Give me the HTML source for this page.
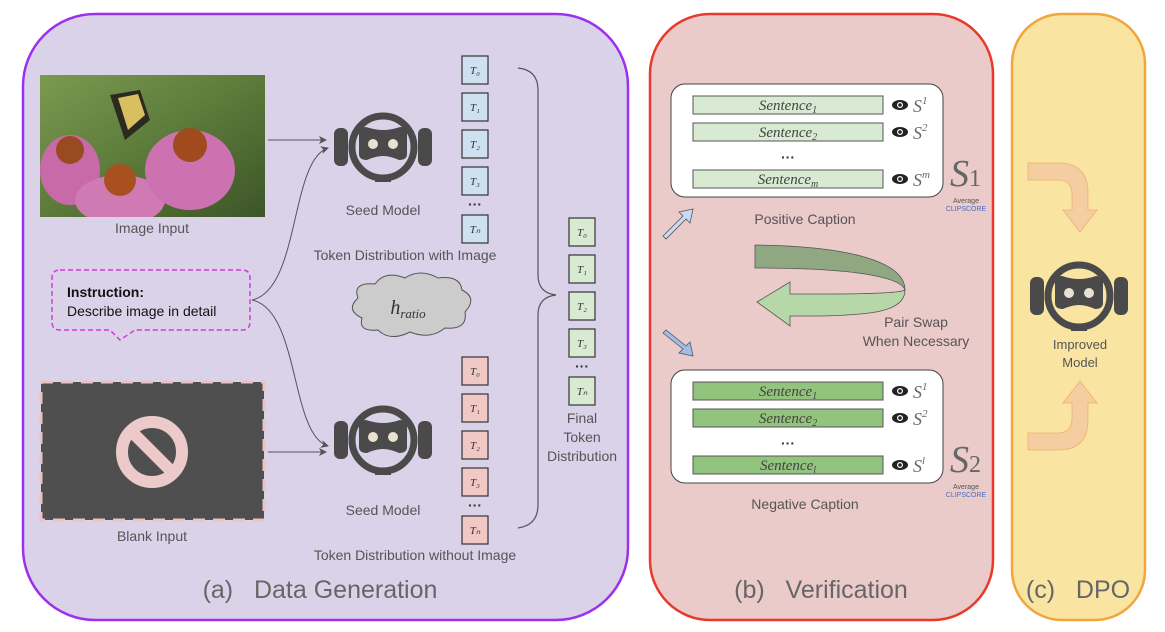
<!DOCTYPE html>
<html><head><meta charset="utf-8"><style>
body{margin:0;background:#fff;}
svg{display:block;font-family:"Liberation Sans",sans-serif;}
.tk{font-family:"Liberation Serif",serif;font-style:italic;font-size:11px;fill:#333;}
.lbl{font-size:14px;fill:#555;}
.sent{font-family:"Liberation Serif",serif;font-style:italic;font-size:15px;fill:#444;}
</style></head><body>
<svg width="1165" height="632" viewBox="0 0 1165 632" xmlns="http://www.w3.org/2000/svg">
<defs>
<g id="robot">
  <rect x="-49" y="-19" width="14" height="38" rx="6" fill="#4a4a4a"/>
  <rect x="35" y="-19" width="14" height="38" rx="6" fill="#4a4a4a"/>
  <circle cx="0" cy="0" r="31" fill="none" stroke="#4a4a4a" stroke-width="7"/>
  <path d="M-24,-14 Q-24,-20 -17,-20 Q-8,-17 0,-17 Q8,-17 17,-20 Q24,-20 24,-14 L24,7 Q24,13 16,13 Q7,9 0,9 Q-7,9 -16,13 Q-24,13 -24,7 Z" fill="#4a4a4a"/>
  <circle cx="-10" cy="-3" r="5" fill="#e8e0d0"/>
  <circle cx="10" cy="-3" r="5" fill="#e8e0d0"/>
  <rect x="-8" y="30" width="16" height="5" fill="#4a4a4a"/>
</g>
<marker id="ar" markerWidth="8" markerHeight="8" refX="7" refY="4" orient="auto"><path d="M0,0 L8,4 L0,8 L2,4 Z" fill="#555"/></marker>
<linearGradient id="img" x1="0" y1="0" x2="1" y2="1"><stop offset="0" stop-color="#7a9a50"/><stop offset="0.5" stop-color="#5c7a3a"/><stop offset="1" stop-color="#3d5528"/></linearGradient>
<clipPath id="ic"><rect x="40" y="75" width="225" height="142"/></clipPath>
</defs>

<rect x="23" y="14" width="605" height="606" rx="72" fill="#d9d2e9" stroke="#9b30ee" stroke-width="2.5"/>
<rect x="650" y="14" width="343" height="606" rx="60" fill="#ebcaca" stroke="#e8392a" stroke-width="2.5"/>
<rect x="1012" y="14" width="133" height="606" rx="50" fill="#f9e5a1" stroke="#f2a53a" stroke-width="2.5"/>

<g clip-path="url(#ic)">
<rect x="40" y="75" width="225" height="142" fill="url(#img)"/>
<ellipse cx="70" cy="170" rx="30" ry="35" fill="#c86aa8"/>
<ellipse cx="120" cy="200" rx="45" ry="25" fill="#d07ab4"/>
<ellipse cx="190" cy="170" rx="45" ry="40" fill="#cc72b0"/>
<circle cx="70" cy="150" r="14" fill="#9a4a20"/>
<circle cx="120" cy="180" r="16" fill="#a85020"/>
<circle cx="190" cy="145" r="17" fill="#a04a1e"/>
<path d="M110,95 L140,90 L150,120 L125,140 Z" fill="#2a2a20"/>
<path d="M118,98 L138,94 L145,115 L128,130 Z" fill="#d8c060"/>
</g>
<text x="152" y="233" text-anchor="middle" class="lbl">Image Input</text>

<rect x="41" y="382" width="223" height="138" fill="#4f4f4f" stroke="#e8c4c4" stroke-width="3" stroke-dasharray="12,8"/>
<circle cx="152" cy="452" r="30" fill="none" stroke="#eccaca" stroke-width="12"/>
<line x1="131" y1="431" x2="173" y2="473" stroke="#eccaca" stroke-width="12"/>
<text x="152" y="541" text-anchor="middle" class="lbl">Blank Input</text>

<path d="M60,270 L242,270 Q250,270 250,278 L250,322 Q250,330 242,330 L135,330 L120,340 L110,330 L60,330 Q52,330 52,322 L52,278 Q52,270 60,270 Z" fill="#d9d2e9" stroke="#d63ad6" stroke-width="1.5" stroke-dasharray="5,3"/>
<text x="67" y="297" font-size="14" font-weight="bold" fill="#111">Instruction:</text>
<text x="67" y="316" font-size="14" fill="#111">Describe image in detail</text>

<line x1="268" y1="140" x2="326" y2="140" stroke="#555" stroke-width="1" marker-end="url(#ar)"/>
<line x1="268" y1="452" x2="326" y2="452" stroke="#555" stroke-width="1" marker-end="url(#ar)"/>
<path d="M252,300 C300,290 290,160 328,148" fill="none" stroke="#555" stroke-width="1" marker-end="url(#ar)"/>
<path d="M252,300 C300,310 290,435 328,446" fill="none" stroke="#555" stroke-width="1" marker-end="url(#ar)"/>

<use href="#robot" x="383" y="147"/>
<use href="#robot" x="383" y="440"/>
<text x="383" y="215" text-anchor="middle" class="lbl">Seed Model</text>
<text x="405" y="260" text-anchor="middle" class="lbl">Token Distribution with Image</text>
<text x="383" y="515" text-anchor="middle" class="lbl">Seed Model</text>
<text x="415" y="560" text-anchor="middle" class="lbl">Token Distribution without Image</text>

<path d="M362,318 Q345,310 358,298 Q352,282 375,284 Q385,270 405,278 Q420,268 438,278 Q460,275 462,290 Q478,298 465,312 Q468,330 445,328 Q430,340 410,332 Q390,342 378,330 Q358,332 362,318 Z" fill="#cccccc" stroke="#555" stroke-width="1"/>
<text x="408" y="314" text-anchor="middle" font-family="Liberation Serif,serif" font-style="italic" font-size="20" fill="#333">h<tspan font-size="13" dy="4">ratio</tspan></text>

<g stroke="#333" stroke-width="1.2" fill="#cfe0f1">
<rect x="462" y="56" width="26" height="28"/><rect x="462" y="93" width="26" height="28"/><rect x="462" y="130" width="26" height="28"/><rect x="462" y="167" width="26" height="28"/><rect x="462" y="215" width="26" height="28"/>
</g>
<g stroke="#333" stroke-width="1.2" fill="#f0c9c6">
<rect x="462" y="357" width="26" height="28"/><rect x="462" y="394" width="26" height="28"/><rect x="462" y="431" width="26" height="28"/><rect x="462" y="468" width="26" height="28"/><rect x="462" y="516" width="26" height="28"/>
</g>
<g stroke="#333" stroke-width="1.2" fill="#d9ead3">
<rect x="569" y="218" width="26" height="28"/><rect x="569" y="255" width="26" height="28"/><rect x="569" y="292" width="26" height="28"/><rect x="569" y="329" width="26" height="28"/><rect x="569" y="377" width="26" height="28"/>
</g>
<g class="tk" text-anchor="middle">
<text x="475" y="74">T₀</text><text x="475" y="111">T₁</text><text x="475" y="148">T₂</text><text x="475" y="185">T₃</text><text x="475" y="233">Tₙ</text>
<text x="475" y="375">T₀</text><text x="475" y="412">T₁</text><text x="475" y="449">T₂</text><text x="475" y="486">T₃</text><text x="475" y="534">Tₙ</text>
<text x="582" y="236">T₀</text><text x="582" y="273">T₁</text><text x="582" y="310">T₂</text><text x="582" y="347">T₃</text><text x="582" y="395">Tₙ</text>
</g>
<g font-size="14" fill="#333" text-anchor="middle" font-weight="bold">
<text x="475" y="209">···</text><text x="475" y="510">···</text><text x="582" y="371">···</text>
</g>

<path d="M518,68 Q538,70 538,90 L538,275 Q538,293 556,295 Q538,297 538,315 L538,505 Q538,525 518,528" fill="none" stroke="#555" stroke-width="1.2"/>
<text x="582" y="423" text-anchor="middle" class="lbl">Final</text>
<text x="582" y="442" text-anchor="middle" class="lbl">Token</text>
<text x="582" y="461" text-anchor="middle" class="lbl">Distribution</text>

<text x="320" y="598" text-anchor="middle" font-size="25" fill="#666">(a)&#160;&#160;&#160;Data Generation</text>
<text x="821" y="598" text-anchor="middle" font-size="25" fill="#666">(b)&#160;&#160;&#160;Verification</text>
<text x="1078" y="598" text-anchor="middle" font-size="25" fill="#666">(c)&#160;&#160;&#160;DPO</text>

<rect x="671" y="84" width="272" height="113" rx="14" fill="#fff" stroke="#444" stroke-width="1"/>
<rect x="671" y="370" width="272" height="113" rx="14" fill="#fff" stroke="#444" stroke-width="1"/>
<g stroke="#555" stroke-width="1" fill="#d9ead3">
<rect x="693" y="96" width="190" height="18"/><rect x="693" y="123" width="190" height="18"/><rect x="693" y="170" width="190" height="18"/>
</g>
<g stroke="#555" stroke-width="1" fill="#93c47d">
<rect x="693" y="382" width="190" height="18"/><rect x="693" y="409" width="190" height="18"/><rect x="693" y="456" width="190" height="18"/>
</g>
<g class="sent" text-anchor="middle">
<text x="788" y="110">Sentence<tspan font-size="10" dy="3">1</tspan></text>
<text x="788" y="137">Sentence<tspan font-size="10" dy="3">2</tspan></text>
<text x="788" y="184">Sentence<tspan font-size="10" dy="3">m</tspan></text>
<text x="788" y="396">Sentence<tspan font-size="10" dy="3">1</tspan></text>
<text x="788" y="423">Sentence<tspan font-size="10" dy="3">2</tspan></text>
<text x="788" y="470">Sentence<tspan font-size="10" dy="3">l</tspan></text>
</g>
<g font-size="14" fill="#333" text-anchor="middle" font-weight="bold"><text x="788" y="162">···</text><text x="788" y="448">···</text></g>
<g fill="#222">
<g transform="translate(900,105)"><ellipse rx="8" ry="5"/><circle r="3" fill="#fff"/><circle r="1.8"/></g>
<g transform="translate(900,132)"><ellipse rx="8" ry="5"/><circle r="3" fill="#fff"/><circle r="1.8"/></g>
<g transform="translate(900,179)"><ellipse rx="8" ry="5"/><circle r="3" fill="#fff"/><circle r="1.8"/></g>
<g transform="translate(900,391)"><ellipse rx="8" ry="5"/><circle r="3" fill="#fff"/><circle r="1.8"/></g>
<g transform="translate(900,418)"><ellipse rx="8" ry="5"/><circle r="3" fill="#fff"/><circle r="1.8"/></g>
<g transform="translate(900,465)"><ellipse rx="8" ry="5"/><circle r="3" fill="#fff"/><circle r="1.8"/></g>
</g>
<g font-family="Liberation Serif,serif" font-style="italic" font-size="18" fill="#666">
<text x="913" y="112">S<tspan font-size="11" dy="-8">1</tspan></text>
<text x="913" y="139">S<tspan font-size="11" dy="-8">2</tspan></text>
<text x="913" y="186">S<tspan font-size="11" dy="-8">m</tspan></text>
<text x="913" y="398">S<tspan font-size="11" dy="-8">1</tspan></text>
<text x="913" y="425">S<tspan font-size="11" dy="-8">2</tspan></text>
<text x="913" y="472">S<tspan font-size="11" dy="-8">l</tspan></text>
</g>
<text x="950" y="186" font-family="Liberation Serif,serif" font-style="italic" font-size="38" fill="#666">S<tspan font-style="normal" font-size="24">1</tspan></text>
<text x="950" y="472" font-family="Liberation Serif,serif" font-style="italic" font-size="38" fill="#666">S<tspan font-style="normal" font-size="24">2</tspan></text>
<text x="966" y="203" text-anchor="middle" font-size="7" fill="#555">Average</text>
<text x="966" y="211" text-anchor="middle" font-size="7" fill="#4a6ec0">CLIPSCORE</text>
<text x="966" y="489" text-anchor="middle" font-size="7" fill="#555">Average</text>
<text x="966" y="497" text-anchor="middle" font-size="7" fill="#4a6ec0">CLIPSCORE</text>
<text x="805" y="224" text-anchor="middle" class="lbl">Positive Caption</text>
<text x="805" y="509" text-anchor="middle" class="lbl">Negative Caption</text>

<path d="M663,236 L683,216 L679,212 L693,209 L690,223 L686,219 L666,239 Z" fill="#c9daf8" stroke="#555" stroke-width="0.8"/>
<path d="M663,333 L683,349 L679,353 L693,356 L690,342 L686,346 L666,330 Z" fill="#9fbde6" stroke="#555" stroke-width="0.8"/>

<path d="M905,290 C905,312 870,315 820,316 L790,316 L790,326 L757,302 L790,282 L790,294 L820,294 C880,294 902,292 905,290 Z" fill="#b6d7a8" stroke="#555" stroke-width="0.8"/>
<path d="M755,245 C850,246 905,262 905,290 C902,280 870,268 755,268 Z" fill="#8fa882" stroke="#555" stroke-width="0.8"/>
<text x="916" y="327" text-anchor="middle" class="lbl">Pair Swap</text>
<text x="916" y="346" text-anchor="middle" class="lbl">When Necessary</text>

<path d="M1028,163 L1058,163 Q1088,163 1088,193 L1088,210 L1097,210 L1080,232 L1063,210 L1072,210 L1072,195 Q1072,180 1058,180 L1028,180 Z" fill="#f4cda0" stroke="#f0b070" stroke-width="0.8"/>
<path d="M1028,450 L1058,450 Q1088,450 1088,420 L1088,403 L1097,403 L1080,381 L1063,403 L1072,403 L1072,418 Q1072,433 1058,433 L1028,433 Z" fill="#f4cda0" stroke="#f0b070" stroke-width="0.8"/>
<use href="#robot" x="1079" y="296"/>
<text x="1080" y="349" text-anchor="middle" font-size="13" fill="#555">Improved</text>
<text x="1080" y="367" text-anchor="middle" font-size="13" fill="#555">Model</text>
</svg>
</body></html>
